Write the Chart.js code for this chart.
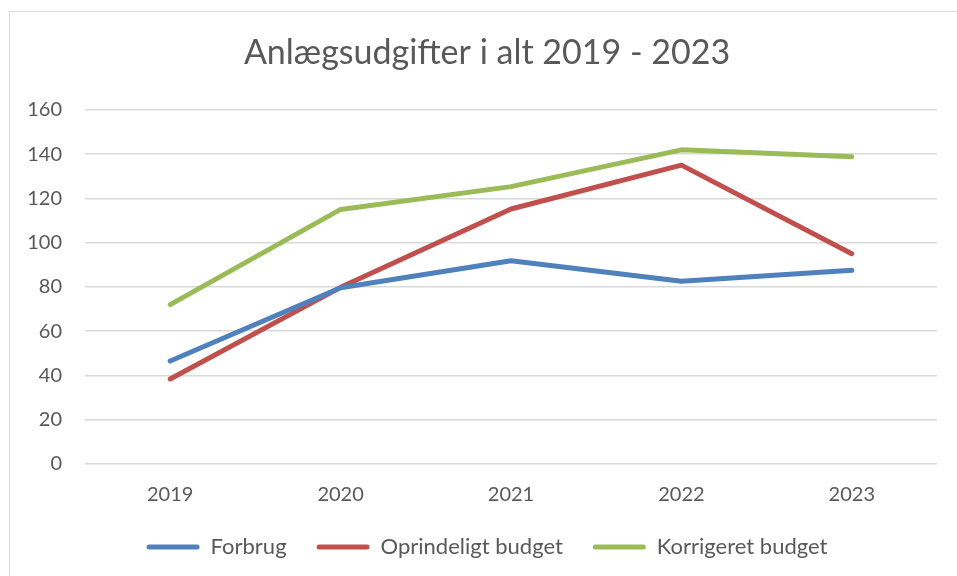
<!DOCTYPE html>
<html>
<head>
<meta charset="utf-8">
<script src="https://cdn.jsdelivr.net/npm/chart.js@4"></script>
<style>
  html, body { margin: 0; padding: 0; background: #fff; }
  #wrap { position: relative; width: 957px; height: 576px; overflow: hidden; }
  #frame { position: absolute; left: 9px; top: 11px; width: 1000px; height: 700px; border: 1px solid #d9d9d9; box-sizing: border-box; }
  canvas { position: absolute; left: 0; top: 0; }
</style>
</head>
<body>
<div id="wrap">
  <div id="frame"></div>
  <canvas id="chart" width="974" height="576"></canvas>
</div>
<script>
var years = ['2019', '2020', '2021', '2022', '2023'];
var forbrug = [46.5, 79.6, 91.8, 82.6, 87.5];
var oprindeligt = [38.4, 79.8, 115.2, 135, 95];
var korrigeret = [72, 115, 125.3, 141.9, 138.8];

var BLUE = '#4f81bd';
var RED = '#c0504d';
var GREEN = '#9bbb59';
var GRID = '#d9d9d9';
var TEXT = '#595959';
var FONT = "Lato, 'Open Sans', sans-serif";

function series(label, data, colour) {
  return {
    label: label,
    data: data,
    borderColor: colour,
    backgroundColor: colour,
    borderWidth: 5,
    borderCapStyle: 'round',
    borderJoinStyle: 'round',
    pointRadius: 0,
    tension: 0,
  };
}

new Chart(document.getElementById('chart'), {
  type: 'line',
  data: {
    labels: years,
    datasets: [
      series('Forbrug', forbrug, BLUE),
      series('Oprindeligt budget', oprindeligt, RED),
      series('Korrigeret budget', korrigeret, GREEN),
    ],
  },
  options: {
    responsive: false,
    animation: false,
    layout: { padding: { top: 33, left: 0, right: 0, bottom: 8 } },
    plugins: {
      title: {
        display: true,
        text: 'Anlægsudgifter i alt 2019 - 2023',
        color: TEXT,
        font: { family: FONT, size: 34, weight: 'normal' },
        padding: { top: 0, bottom: 36 },
      },
      legend: {
        position: 'bottom',
        labels: {
          color: TEXT,
          font: { family: FONT, size: 22 },
          boxWidth: 53,
          boxHeight: 5,
          useBorderRadius: true,
          borderRadius: 2.5,
          padding: 30,
          generateLabels: function (chart) {
            return Chart.defaults.plugins.legend.labels.generateLabels(chart).map(function (item) {
              item.lineWidth = 0;
              return item;
            });
          },
        },
      },
      tooltip: { enabled: false },
    },
    scales: {
      x: {
        offset: true,
        afterFit: function (scale) { scale.height = scale.height - 20; },
        grid: { display: false, drawTicks: false },
        border: { display: false },
        ticks: { color: TEXT, font: { family: FONT, size: 20 }, padding: 19 },
      },
      y: {
        min: 0,
        max: 160,
        afterFit: function (scale) { scale.width = 85; },
        grid: { color: GRID, lineWidth: 1.5, drawTicks: false },
        border: { display: false },
        ticks: { stepSize: 20, color: TEXT, font: { family: FONT, size: 20 }, padding: 23 },
      },
      spacer: {
        position: 'right',
        afterFit: function (scale) { scale.width = 37; },
        grid: { display: false, drawTicks: false },
        border: { display: false },
        ticks: { display: false },
      },
    },
  },
});
</script>
</body>
</html>
